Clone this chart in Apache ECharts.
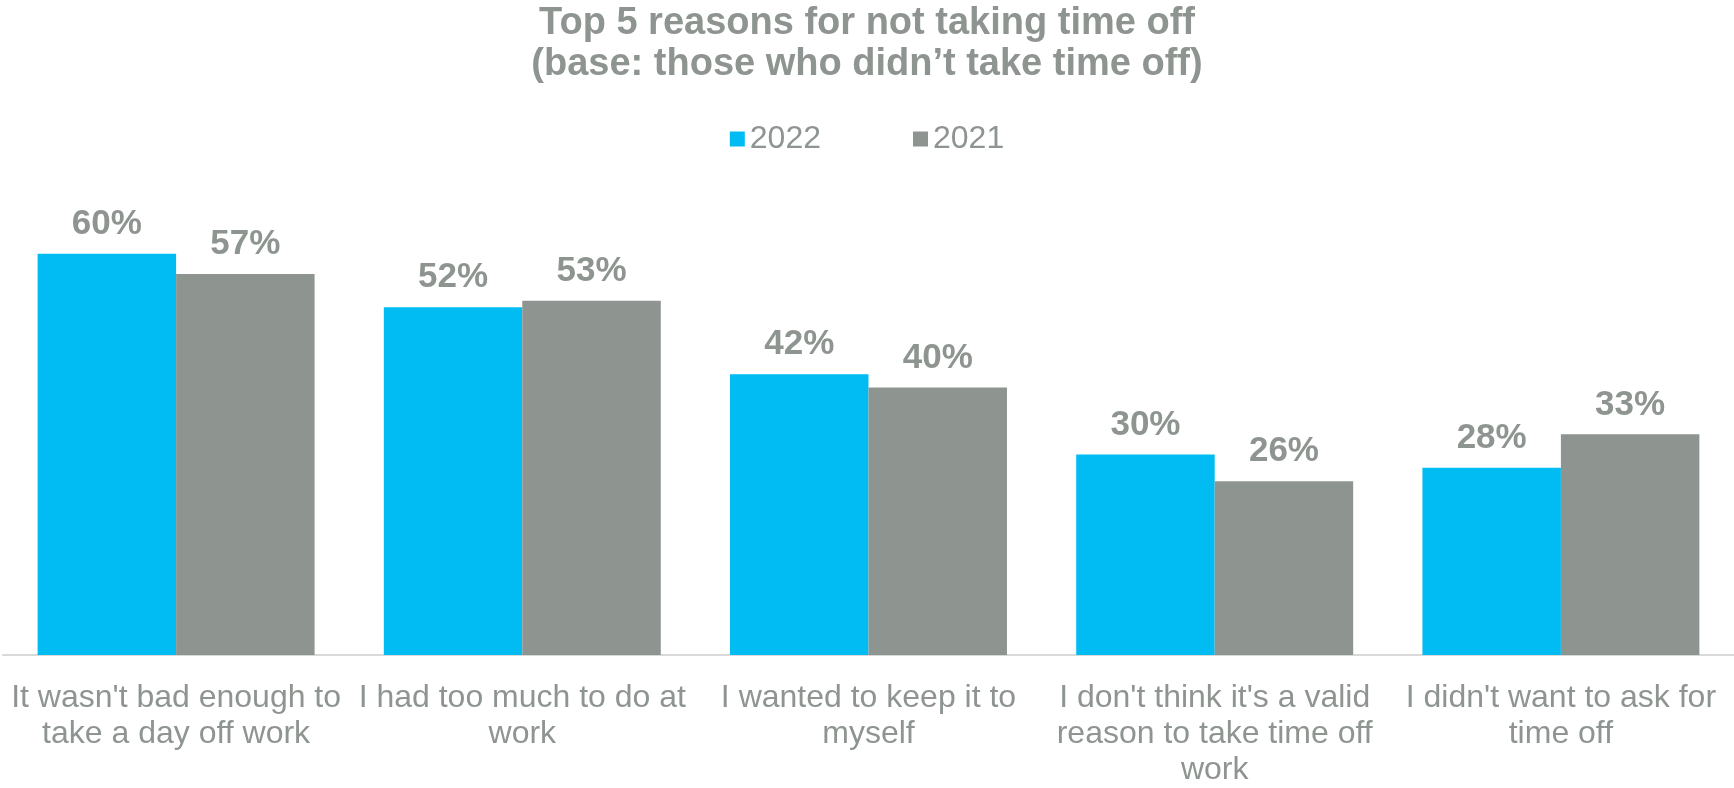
<!DOCTYPE html>
<html>
<head>
<meta charset="utf-8">
<script src="https://cdn.jsdelivr.net/npm/echarts@6/dist/echarts.min.js"></script>
<style>
  html, body { margin: 0; padding: 0; background: #ffffff; }
  #chart { width: 1734px; height: 788px; }
</style>
</head>
<body>
<div id="chart"></div>
<script>
// Reasons (x-axis categories), wrapped as they appear under the bars
const categories = [
  "It wasn't bad enough to\ntake a day off work",
  "I had too much to do at\nwork",
  "I wanted to keep it to\nmyself",
  "I don't think it's a valid\nreason to take time off\nwork",
  "I didn't want to ask for\ntime off"
];
const seriesNames = ["2022", "2021"];
const values2022 = [60, 52, 42, 30, 28];
const values2021 = [57, 53, 40, 26, 33];

const BLUE = '#00BCF2';
const GREY = '#8E9590';
const TEXT = '#8E9590';
const FONT = '"Liberation Sans", Arial, sans-serif';

const valueLabel = {
  show: true,
  position: 'top',
  distance: 12,
  formatter: p => p.value + '%',
  color: TEXT,
  fontFamily: FONT,
  fontWeight: 'bold',
  fontSize: 35
};

const chart = echarts.init(document.getElementById('chart'), null, { renderer: 'canvas' });
chart.setOption({
  animation: false,
  backgroundColor: '#ffffff',
  title: {
    text: 'Top 5 reasons for not taking time off\n(base: those who didn\u2019t take time off)',
    left: 'center',
    top: 3,
    padding: 0,
    textStyle: {
      color: TEXT,
      fontFamily: FONT,
      fontWeight: 'bold',
      fontSize: 38,
      lineHeight: 41
    }
  },
  legend: {
    data: seriesNames,
    top: 118,
    left: 'center',
    itemWidth: 15,
    itemHeight: 15,
    itemGap: 92,
    icon: 'rect',
    textStyle: { color: TEXT, fontFamily: FONT, fontSize: 32 }
  },
  grid: { left: 3, right: 0, top: 187, bottom: 127, containLabel: false },
  xAxis: {
    type: 'category',
    data: categories,
    axisLine: { show: true, lineStyle: { color: '#D9D9D9', width: 2 } },
    axisTick: { show: false },
    axisLabel: {
      interval: 0,
      margin: 25,
      color: TEXT,
      fontFamily: FONT,
      fontSize: 32,
      lineHeight: 36,
      align: 'center',
      verticalAlign: 'top'
    }
  },
  yAxis: {
    type: 'value',
    min: 0,
    max: 70,
    show: false,
    splitLine: { show: false }
  },
  series: [
    {
      name: seriesNames[0],
      type: 'bar',
      data: values2022,
      barGap: '0%',
      barCategoryGap: '20%',
      itemStyle: { color: BLUE },
      label: valueLabel
    },
    {
      name: seriesNames[1],
      type: 'bar',
      data: values2021,
      barGap: '0%',
      barCategoryGap: '20%',
      itemStyle: { color: GREY },
      label: valueLabel
    }
  ]
});
</script>
</body>
</html>
